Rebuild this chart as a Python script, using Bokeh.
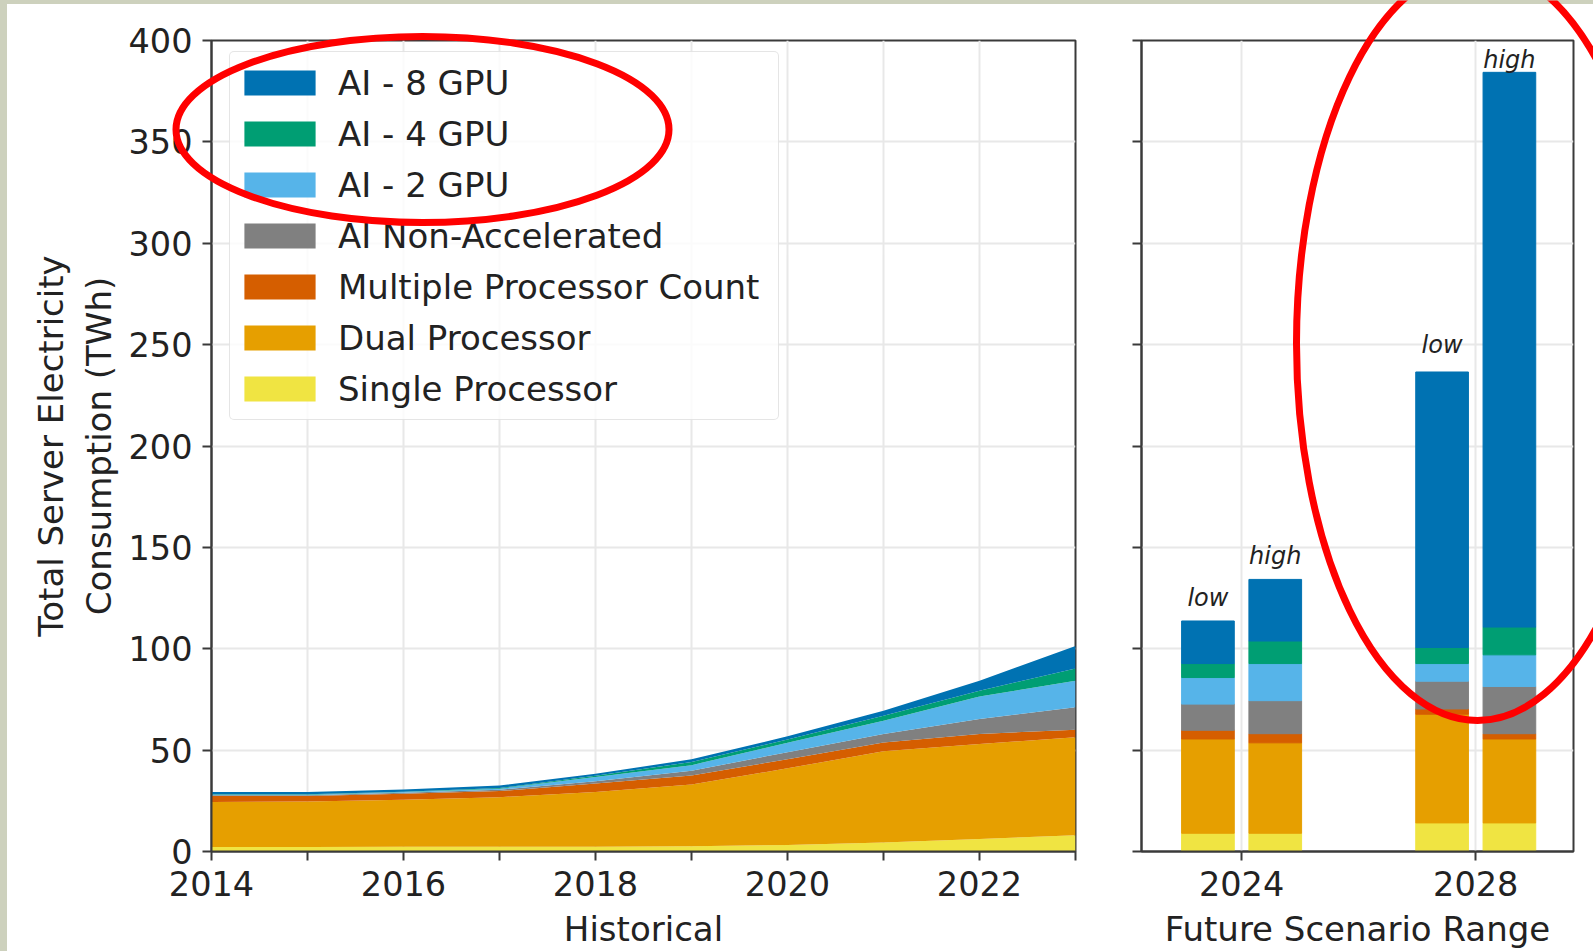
import numpy as np
from bokeh.plotting import figure
from bokeh.models import (ColumnDataSource, Range1d, FixedTicker, Legend, LegendItem,
                          LabelSet, Div)
from bokeh.layouts import row, column
from bokeh.embed import file_html
from bokeh.resources import INLINE
from bokeh.core.properties import value

# ---------------- data ----------------
series_names = ["Single Processor", "Dual Processor", "Multiple Processor Count",
                "AI Non-Accelerated", "AI - 2 GPU", "AI - 4 GPU", "AI - 8 GPU"]
series_keys = ["single", "dual", "mpc", "nonacc", "gpu2", "gpu4", "gpu8"]
series_colors = ["#F0E442", "#E69F00", "#D55E00", "#808080", "#56B4E9", "#009E73", "#0072B2"]

hist_years = [2014, 2015, 2016, 2017, 2018, 2019, 2020, 2021, 2022, 2023]
hist_single = [2.2, 2.2, 2.3, 2.3, 2.4, 2.6, 3.2, 4.5, 6.2, 8.0]
hist_dual = [22.2, 22.4, 23.2, 24.5, 26.9, 30.4, 37.8, 45.0, 46.8, 48.4]
hist_mpc = [3.0, 2.8, 3.0, 3.0, 4.2, 4.5, 4.5, 4.3, 5.0, 3.7]
hist_nonacc = [0.4, 0.4, 0.5, 0.7, 1.1, 2.3, 3.5, 4.2, 7.4, 11.0]
hist_gpu2 = [0.2, 0.2, 0.3, 0.5, 2.1, 2.8, 4.6, 6.5, 11.1, 13.1]
hist_gpu4 = [0.2, 0.2, 0.2, 0.3, 0.6, 1.5, 1.6, 2.5, 2.8, 6.1]
hist_gpu8 = [1.1, 1.1, 1.1, 1.3, 1.0, 1.4, 1.6, 2.4, 4.9, 11.1]

future_years = [2024, 2024, 2028, 2028]
future_scenarios = ["low", "high", "low", "high"]
future_single = [9.0, 9.0, 14.1, 14.1]
future_dual = [46.5, 44.6, 53.6, 41.4]
future_mpc = [4.3, 4.5, 2.6, 2.6]
future_nonacc = [12.9, 16.3, 13.7, 23.3]
future_gpu2 = [13.1, 18.3, 8.7, 15.6]
future_gpu4 = [6.9, 11.1, 7.9, 13.7]
future_gpu8 = [21.0, 30.4, 135.9, 273.6]

y_ticks = [0, 50, 100, 150, 200, 250, 300, 350, 400]
hist_label_years = [2014, 2016, 2018, 2020, 2022]
hist_minor_years = [2015, 2017, 2019, 2021, 2023]
future_ticks = [2024, 2028]

# ---------------- styling ----------------
FONT = "DejaVu Sans"
TXT = "#222222"
FS_TICK = "33.5px"
FS_LAB = "34px"
SPINE = "#3a3a3a"
GRID = "#e8e8e8"
PAGE_BG = "#cdd1bd"
scenario_offset = {"low": -0.575, "high": 0.575}
bar_width = 0.9
label_gap_px = [15, 15, 19, 4]          # gap between bar top and its scenario label

# red highlight ellipses drawn on a transparent page-sized overlay (page pixels)
highlight = dict(cx=[422, 1477], cy=[129, 343], w=[493, 362], h=[186, 754])

hist_src = ColumnDataSource(dict(year=hist_years, single=hist_single, dual=hist_dual,
                                 mpc=hist_mpc, nonacc=hist_nonacc, gpu2=hist_gpu2,
                                 gpu4=hist_gpu4, gpu8=hist_gpu8))

fut = dict(year=future_years, scenario=future_scenarios, single=future_single,
           dual=future_dual, mpc=future_mpc, nonacc=future_nonacc, gpu2=future_gpu2,
           gpu4=future_gpu4, gpu8=future_gpu8)
fut["x"] = [y + scenario_offset[s] for y, s in zip(future_years, future_scenarios)]
fut["total"] = list(np.sum([fut[k] for k in series_keys], axis=0))
fut["gap"] = label_gap_px
fut_src = ColumnDataSource(fut)


def style(p):
    p.background_fill_color = "white"
    p.border_fill_color = "white"
    p.outline_line_color = SPINE
    p.outline_line_width = 2
    for ax in (p.xaxis[0], p.yaxis[0]):
        ax.axis_line_color = SPINE
        ax.axis_line_width = 2
        for kind in ("major", "minor"):
            setattr(ax, kind + "_tick_line_color", SPINE)
            setattr(ax, kind + "_tick_line_width", 2)
            setattr(ax, kind + "_tick_out", 9)
            setattr(ax, kind + "_tick_in", 0)
        ax.major_label_text_font = FONT
        ax.major_label_text_font_size = FS_TICK
        ax.major_label_text_color = TXT
        ax.axis_label_text_font = FONT
        ax.axis_label_text_font_size = FS_LAB
        ax.axis_label_text_color = TXT
        ax.axis_label_text_font_style = "normal"
    for g in (p.xgrid[0], p.ygrid[0]):
        g.grid_line_color = GRID
        g.grid_line_width = 2
        g.minor_grid_line_color = GRID
        g.minor_grid_line_width = 2


PAGE_W, PAGE_H = 1593, 951
H = 947
FRAME_TOP = 36
FRAME_H = 813

# ---------------- left: historical ----------------
p1 = figure(width=1078, height=H, output_backend="svg", toolbar_location=None,
            x_range=Range1d(2014, 2023), y_range=Range1d(0, 400),
            min_border_left=204, min_border_right=10, min_border_top=FRAME_TOP,
            min_border_bottom=H - FRAME_TOP - FRAME_H)
style(p1)
areas = p1.varea_stack(stackers=series_keys, x="year", color=series_colors,
                       source=hist_src)
p1.xaxis.ticker = FixedTicker(ticks=hist_label_years, minor_ticks=hist_minor_years)
p1.yaxis.ticker = FixedTicker(ticks=y_ticks)
p1.xaxis.axis_label = "Historical"
p1.yaxis.axis_label = "Total Server Electricity\nConsumption (TWh)"
p1.xaxis.major_label_standoff = 10
p1.xaxis.axis_label_standoff = 10
p1.yaxis.major_label_standoff = 10
p1.yaxis.axis_label_standoff = 7

items = [LegendItem(label=n, renderers=[r]) for n, r in zip(series_names, areas)][::-1]
legend = Legend(items=items, location=(18, 431), margin=0,
                label_text_font=FONT, label_text_font_size=FS_LAB, label_text_color=TXT,
                glyph_width=89, glyph_height=31, label_height=51, label_width=435,
                label_standoff=14, padding=5, spacing=0,
                border_line_color="#cccccc", border_line_width=1.5,
                background_fill_color="white", background_fill_alpha=0.8)
if "border_radius" in Legend.properties():
    legend.border_radius = 5
p1.add_layout(legend)

# ---------------- right: future ----------------
p2 = figure(width=508, height=H, output_backend="svg", toolbar_location=None,
            x_range=Range1d(2022.29, 2029.67), y_range=Range1d(0, 400),
            min_border_left=56, min_border_right=20, min_border_top=FRAME_TOP,
            min_border_bottom=H - FRAME_TOP - FRAME_H)
style(p2)
p2.vbar_stack(stackers=series_keys, x="x", width=bar_width, color=series_colors,
              source=fut_src)
p2.xaxis.ticker = FixedTicker(ticks=future_ticks)
p2.yaxis.ticker = FixedTicker(ticks=[], minor_ticks=y_ticks)
p2.xaxis.axis_label = "Future Scenario Range"
p2.xaxis.major_label_standoff = 10
p2.xaxis.axis_label_standoff = 10

labels = LabelSet(x="x", y="total", text="scenario", source=fut_src, y_offset="gap",
                  text_align="center", text_baseline="alphabetic",
                  text_font=value(FONT), text_font_size=value("24px"),
                  text_font_style="italic", text_color=TXT)
p2.add_layout(labels)

# ---------------- transparent overlay with the red ellipses ----------------
ov = figure(width=PAGE_W, height=PAGE_H, output_backend="svg", toolbar_location=None,
            x_range=Range1d(0, PAGE_W), y_range=Range1d(PAGE_H, 0),
            x_axis_type=None, y_axis_type=None, min_border=0,
            background_fill_color=None, border_fill_color=None,
            outline_line_color=None, margin=(-PAGE_H, 0, 0, 0))
ov.ellipse(x=highlight["cx"], y=highlight["cy"], width=highlight["w"],
           height=highlight["h"], fill_color=None, line_color="#ff0000", line_width=7)

top_strip = Div(text="", width=PAGE_W, height=4, margin=0,
                styles={"background-color": PAGE_BG})
left_strip = Div(text="", width=7, height=H, margin=0,
                 styles={"background-color": PAGE_BG})
layout = column(top_strip, row(left_strip, p1, p2, spacing=0), ov, spacing=0)
open("out.html", "w").write(file_html(layout, INLINE))
